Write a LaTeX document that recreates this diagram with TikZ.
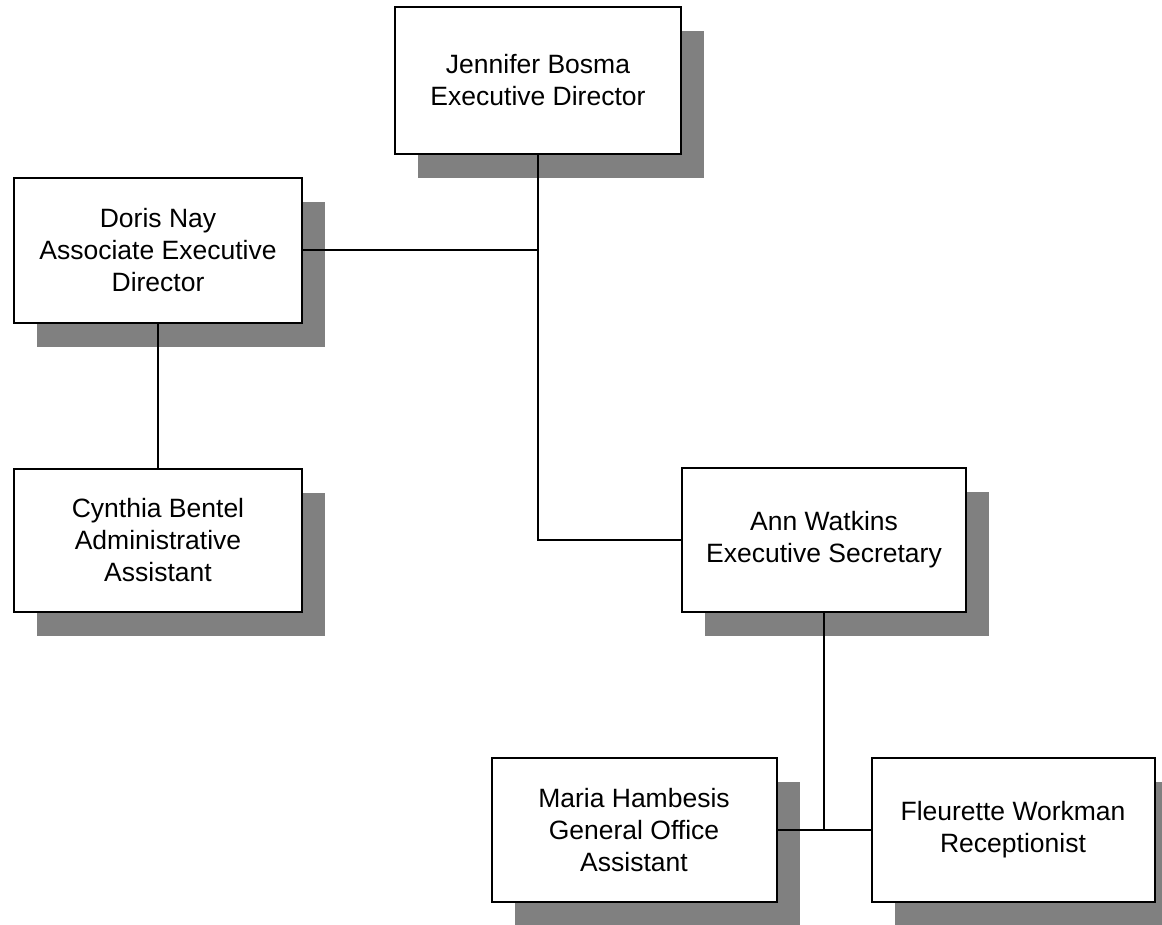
\documentclass[tikz,border=0pt]{standalone}
\usepackage{fontspec}
\setmainfont{Liberation Sans}
\usetikzlibrary{shadows}
\begin{document}
\begin{tikzpicture}[x=1pt,y=-1pt,
  person/.style={draw=black, line width=2pt, fill=white, align=center,
    inner sep=0pt, minimum width=286pt, minimum height=145pt,
    font=\fontsize{26.5}{32}\selectfont,
    drop shadow={shadow xshift=23pt, shadow yshift=-24pt, fill=black!50, opacity=1}},
  link/.style={draw=black, line width=2pt}]
  \useasboundingbox (0,0) rectangle (1162,924);

  % staff boxes
  \node[person, minimum height=147pt] (jb) at (538,80)  {Jennifer Bosma\\Executive Director};
  \node[person, minimum width=288pt]  (dn) at (158,250) {Doris Nay\\Associate Executive\\Director};
  \node[person, minimum width=288pt, minimum height=143pt] (cb) at (158,540) {Cynthia Bentel\\Administrative\\Assistant};
  \node[person, minimum width=284pt, minimum height=144pt] (aw) at (824,540) {Ann Watkins\\Executive Secretary};
  \node[person, minimum width=285pt, minimum height=144pt] (mh) at (634,830) {Maria Hambesis\\General Office\\Assistant};
  \node[person, minimum width=283pt, minimum height=144pt] (fw) at (1013,830) {Fleurette Workman\\Receptionist};

  % reporting lines
  \draw[link] (jb.south) -- (jb.south |- aw.west) -- (aw.west);
  \draw[link] (dn.east) -- (dn.east -| jb.south);
  \draw[link] (dn.south) -- (cb.north);
  \draw[link] (aw.south) -- (aw.south |- mh.east);
  \draw[link] (mh.east) -- (fw.west);
\end{tikzpicture}
\end{document}
